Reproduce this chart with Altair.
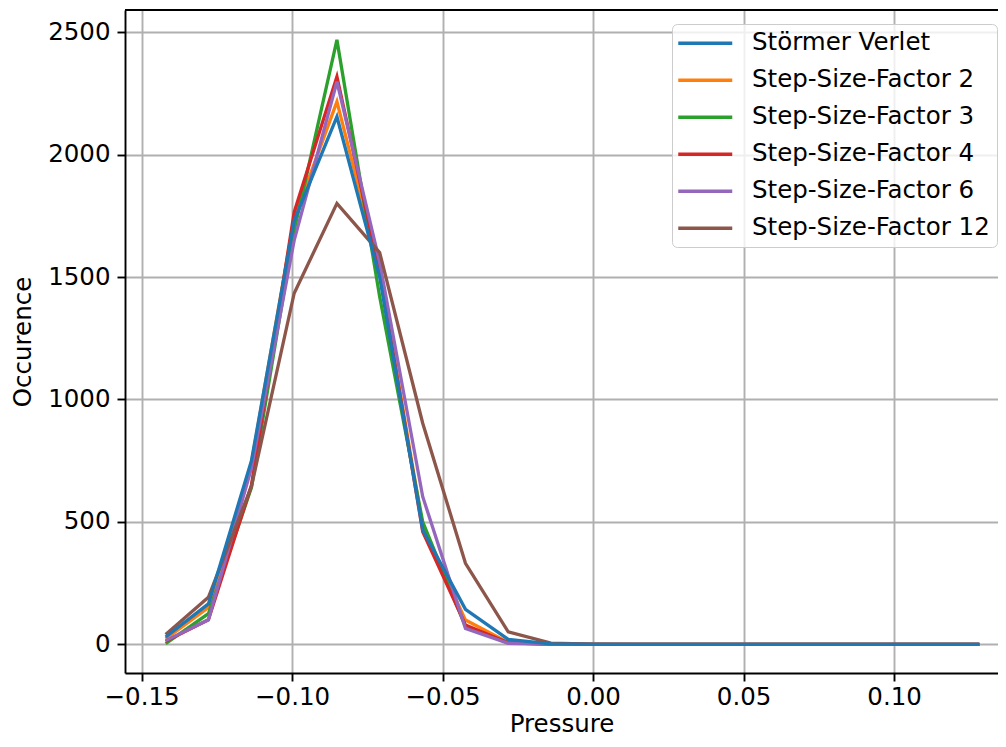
import altair as alt
import pandas as pd

# Pressure bin centres (x) and occurrence counts per integrator
pressure = [-0.1420, -0.1278, -0.1135, -0.0993, -0.0851, -0.0709, -0.0566, -0.0424,
            -0.0282, -0.0140, 0.0003, 0.0145, 0.0287, 0.0429, 0.0572, 0.0714,
            0.0856, 0.0998, 0.1141, 0.1283]

stoermer = [30, 165, 750, 1730, 2155, 1500, 467, 143, 20, 2, 0, 0, 0, 0, 0, 0, 0, 0, 0, 0]
factor2 = [22, 150, 740, 1740, 2217, 1530, 480, 99, 8, 1, 0, 0, 0, 0, 0, 0, 0, 0, 0, 0]
factor3 = [3, 125, 640, 1690, 2469, 1420, 500, 72, 6, 1, 0, 0, 0, 0, 0, 0, 0, 0, 0, 0]
factor4 = [12, 100, 650, 1765, 2319, 1520, 460, 79, 6, 1, 0, 0, 0, 0, 0, 0, 0, 0, 0, 0]
factor6 = [15, 100, 720, 1650, 2298, 1560, 603, 65, 4, 1, 0, 0, 0, 0, 0, 0, 0, 0, 0, 0]
factor12 = [40, 192, 645, 1434, 1801, 1600, 903, 331, 51, 5, 1, 0, 0, 0, 0, 0, 0, 0, 0, 0]

series_names = ["Störmer Verlet", "Step-Size-Factor 2", "Step-Size-Factor 3",
                "Step-Size-Factor 4", "Step-Size-Factor 6", "Step-Size-Factor 12"]
series_values = [stoermer, factor2, factor3, factor4, factor6, factor12]
colors = ["#1f77b4", "#ff7f0e", "#2ca02c", "#d62728", "#9467bd", "#8c564b"]

x_ticks = [-0.15, -0.10, -0.05, 0.0, 0.05, 0.10]
y_ticks = [0, 500, 1000, 1500, 2000, 2500]

rows = []
for name, vals in zip(series_names, series_values):
    for x, v in zip(pressure, vals):
        rows.append({"series": name, "pressure": x, "occurence": v})
df = pd.DataFrame(rows)

W, H = 873, 663
FS = 24.5

x_enc = alt.X("pressure:Q",
              scale=alt.Scale(domain=[-0.1555, 0.1345], nice=False, zero=False),
              axis=alt.Axis(values=x_ticks, format=".2f", title="Pressure",
                            labelFlush=False, labelPadding=4, titlePadding=4))
y_enc = alt.Y("occurence:Q",
              scale=alt.Scale(domain=[-117.2, 2591], nice=False, zero=False),
              axis=alt.Axis(values=y_ticks, format="d", title="Occurence",
                            labelPadding=7, titlePadding=12))
color_enc = alt.Color("series:N",
                      scale=alt.Scale(domain=series_names, range=colors),
                      legend=alt.Legend(title=None, orient="none",
                                        legendX=547, legendY=14,
                                        symbolType="M-2.7,0L2.7,0",
                                        symbolSize=400, symbolStrokeWidth=3.3,
                                        symbolOffset=14, labelOffset=34.5,
                                        rowPadding=12.0, padding=7,
                                        labelFont="DejaVu Sans", labelFontSize=FS,
                                        labelColor="black", labelLimit=400,
                                        fillColor="rgba(255,255,255,0.8)",
                                        strokeColor="#cccccc", cornerRadius=5))

draw_order = ["Step-Size-Factor 2", "Step-Size-Factor 3", "Step-Size-Factor 4",
              "Step-Size-Factor 6", "Step-Size-Factor 12", "Störmer Verlet"]

layers = []
for name in draw_order:
    layers.append(
        alt.Chart(df).transform_filter(alt.datum.series == name)
        .mark_line(strokeWidth=3.3)
        .encode(x=x_enc, y=y_enc, color=color_enc)
    )

top_spine = alt.Chart(alt.Data(values=[{"a": 1}])).mark_rule(
    color="black", strokeWidth=1.9).encode(
    y=alt.value(0), x=alt.value(0), x2=alt.value(W))

chart = alt.layer(*layers, top_spine).properties(
    width=W, height=H,
    autosize=alt.AutoSizeParams(type="none"),
    padding={"left": 117, "top": 2, "right": 0, "bottom": 66},
).configure_view(
    strokeWidth=0
).configure_axis(
    labelFont="DejaVu Sans", labelFontSize=FS, labelColor="black",
    titleFont="DejaVu Sans", titleFontSize=FS, titleFontWeight="normal",
    titleColor="black",
    domainColor="black", domainWidth=1.9,
    tickColor="black", tickWidth=1.9, tickSize=8,
    gridColor="#b0b0b0", gridWidth=1.9,
)

chart.save("out.html", embed_options={"renderer": "svg", "actions": False})
